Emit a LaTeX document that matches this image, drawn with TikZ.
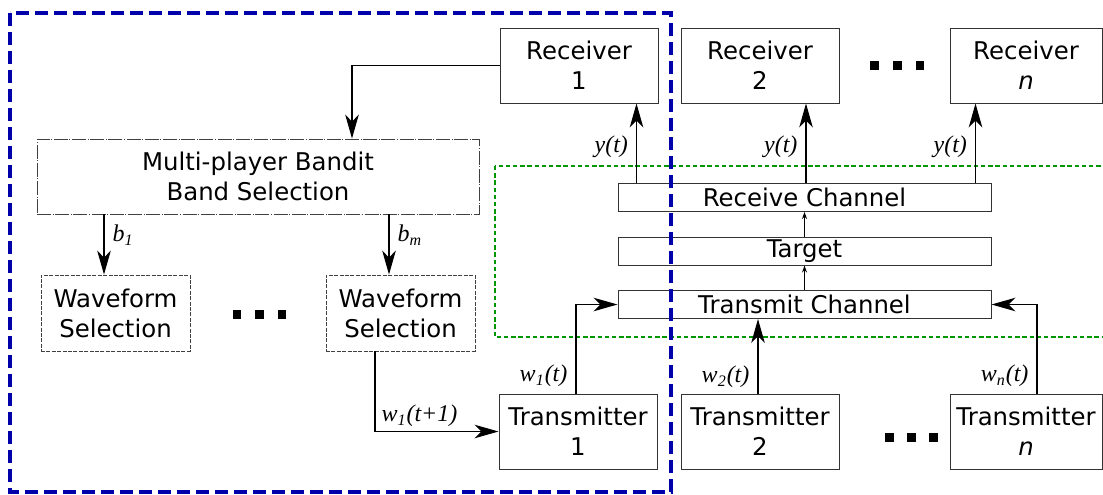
\documentclass[tikz,border=0pt]{standalone}
\usepackage{fontspec}
\setmainfont{DejaVu Sans}
\newfontfamily\serifit{Liberation Serif}
\usetikzlibrary{arrows.meta}
\definecolor{radarblue}{RGB}{0,0,170}
\definecolor{chgreen}{RGB}{0,150,0}

\begin{document}
\begin{tikzpicture}[x=0.5pt, y=-0.5pt,
	blk/.style = {draw=black!80, line width=0.5pt, fill=white, align=center, inner sep=0pt,
		minimum width=79pt, minimum height=37.5pt, font=\fontsize{12.2}{15}\selectfont},
	chan/.style = {blk, minimum width=186.5pt, minimum height=14pt},
	bandbox/.style = {blk, draw=black!75, line width=0.4pt, dash pattern=on 7pt off 0.8pt on 0.5pt off 0.8pt},
	wavebox/.style = {blk, draw=black!75, line width=0.4pt, dash pattern=on 2pt off 0.7pt},
	arr/.style = {line width=0.6pt, -{Stealth[length=12pt, width=6.8pt, inset=3.5pt]}},
	sarr/.style = {line width=0.5pt, -{Stealth[length=3.5pt, width=2.5pt]}},
	lbl/.style = {font=\serifit\itshape\fontsize{12}{14}\selectfont, inner sep=4pt},
	sq/.style = {fill, inner sep=0pt, minimum width=4.25pt, minimum height=4.5pt}]

	\useasboundingbox (0,0) rectangle (1103,494);

	% channel region
	\draw[chgreen, line width=1pt, dash pattern=on 2.2pt off 1.4pt] (495,166) rectangle (1120,337);

	% receivers and transmitters
	\node[blk] (rxone) at (579,65.5) {Receiver\\1};
	\node[blk] (rxtwo) at (760,65.5) {Receiver\\2};
	\node[blk, minimum width=76pt] (rxn) at (1026,65.5) {Receiver\\\textit{n}};
	\node[blk] (txone) at (578,431.5) {Transmitter\\1};
	\node[blk] (txtwo) at (760,431.5) {Transmitter\\2};
	\node[blk, minimum width=76pt] (txn) at (1026,431.5) {Transmitter\\\textit{n}};

	% channel
	\node[chan] (rxch) at (804.5,197.5) {Receive Channel};
	\node[chan] (target) at (804.5,251) {Target};
	\node[chan] (txch) at (804.5,304.5) {Transmit Channel};

	% cognitive radar
	\node[bandbox, minimum width=221pt] (bandit) at (258,176.5) {Multi-player Bandit\\Band Selection};
	\node[wavebox, minimum width=74.5pt, minimum height=38pt] (wfone) at (115.5,313) {Waveform\\Selection};
	\node[wavebox, minimum width=74.5pt, minimum height=38pt] (wfm) at (400.5,313) {Waveform\\Selection};

	\foreach \i in {0,1,2}
	{
		\node[sq] (rxdot\i) at (874.5+22.75*\i,65) {};
		\node[sq] (wfdot\i) at (237+22.5*\i,314) {};
		\node[sq] (txdot\i) at (889.5+22*\i,437) {};
	}

	\draw[arr] (rxone.west) -| ([xshift=47pt]bandit.north);
	\draw[arr] ([xshift=-5.75pt]wfone.north |- bandit.south) -- ([xshift=-5.75pt]wfone.north)
		node[lbl, right, pos=0.34] {b\textsubscript{1}};
	\draw[arr] ([xshift=-5.75pt]wfm.north |- bandit.south) -- ([xshift=-5.75pt]wfm.north)
		node[lbl, right, pos=0.34] {b\textsubscript{m}};
	\draw[arr] ([xshift=-12.75pt]wfm.south) |- (txone.west)
		node[lbl, above, inner sep=2pt, pos=0.68] {w\textsubscript{1}(t+1)};

	\draw[arr] ([xshift=-1pt]txone.north) |- (txch.west) node[lbl, left, pos=0.1] {w\textsubscript{1}(t)};
	\draw[arr] ([xshift=-1pt]txtwo.north) -- ([xshift=-1pt]txtwo.north |- txch.south)
		node[lbl, left, pos=0.22] {w\textsubscript{2}(t)};
	\draw[arr] ([xshift=5.5pt]txn.north) |- (txch.east) node[lbl, left, pos=0.1] {w\textsubscript{n}(t)};

	\draw[sarr] (txch.north) -- (target.south);
	\draw[sarr] (target.north) -- (rxch.south);

	\draw[arr] ([xshift=9.5pt]rxch.north west) -- ([xshift=9.5pt]rxch.north west |- rxone.south)
		node[lbl, left, pos=0.45] {y(t)};
	\draw[arr] ([xshift=0.75pt]rxch.north) -- ([xshift=0.75pt]rxch.north |- rxtwo.south)
		node[lbl, left, pos=0.45] {y(t)};
	\draw[arr] ([xshift=-8pt]rxch.north east) -- ([xshift=-8pt]rxch.north east |- rxn.south)
		node[lbl, left, pos=0.45] {y(t)};

	% radar 1
	\draw[radarblue, line width=2pt, dash pattern=on 6.5pt off 3pt] (10,13) rectangle (671,492);
\end{tikzpicture}
\end{document}
